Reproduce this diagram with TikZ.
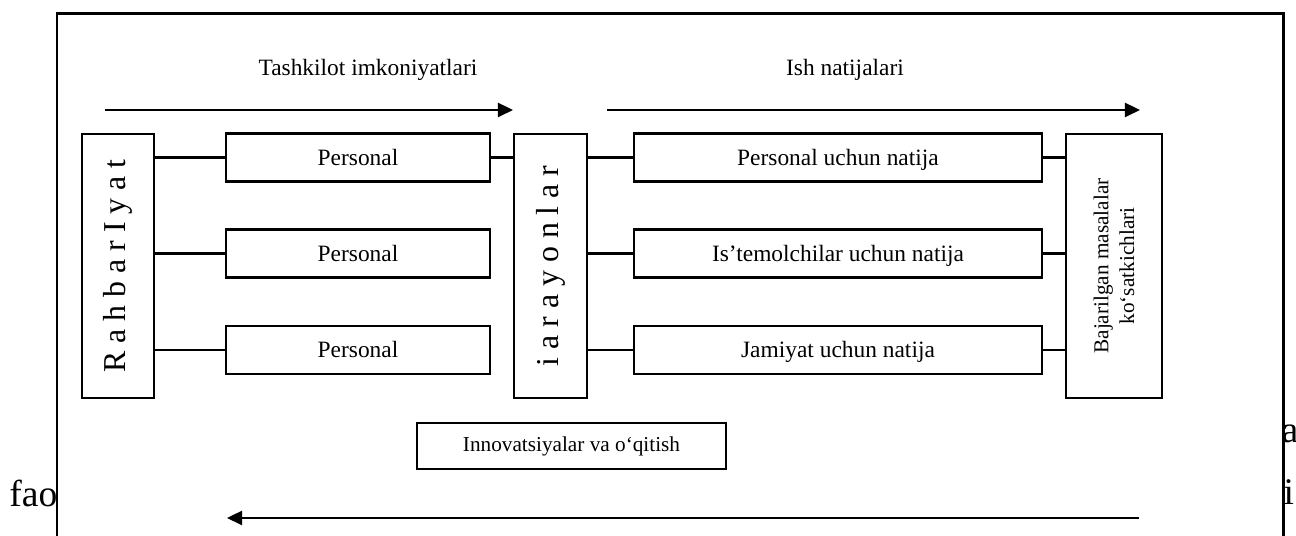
\documentclass[tikz,border=0pt]{standalone}
\usepackage{fontspec}
\setmainfont{Liberation Serif}
\usetikzlibrary{arrows.meta}
\begin{document}
\def\s{0.3673pt}
\begin{tikzpicture}[x=0.3673pt, y=-0.3673pt,
  box/.style 2 args={draw, line width=0.75pt, fill=white, inner sep=0pt, align=center,
    minimum width={#1*\s}, minimum height={#2*\s}},
  lbl/.style={font=\fontsize{8.6}{10}\selectfont},
  boxlbl/.style={lbl, text height=7.4pt, text depth=1.6pt},
  vert/.style={font=\fontsize{11.7}{14}\selectfont, rotate=90},
  small/.style={font=\fontsize{7.8}{9.4}\selectfont},
  body/.style={font=\fontsize{13.8}{16}\selectfont, inner sep=0pt},
  link/.style={line width=0.75pt},
  flow/.style={line width=0.95pt, -{Triangle[length=5.6pt, width=5.2pt]}}]
\useasboundingbox (0,0) rectangle (1296,536);
\clip (0,0) rectangle (1296,536);

% surrounding paragraph text, partly hidden by the frame
\node[body, anchor=base east] (t1) at (58,507) {fao};
\node[body, anchor=base west] (t2) at (1281,443) {a};
\node[body, anchor=base west] (t3) at (1283,505) {i};

% frame of the figure
\draw[line width=1.1pt, fill=white] (57,14) rectangle (1283,560);

% headings
\node[lbl] (h1) at (368,70) {Tashkilot imkoniyatlari};
\node[lbl] (h2) at (845,70) {Ish natijalari};

% flow arrows
\coordinate (a1s) at (105,110);
\coordinate (a1e) at (513,110);
\coordinate (a2s) at (607,110);
\coordinate (a2e) at (1140,110);
\coordinate (a3s) at (1139,518);
\coordinate (a3e) at (227,518);
\draw[flow] (a1s) -- (a1e);
\draw[flow] (a2s) -- (a2e);
\draw[flow] (a3s) -- (a3e);

% left column
\node[box={264}{72}, vert] (rahbar) at (118,266) {R a h b a r I y a t};
\node[box={264}{48}, boxlbl] (p1) at (358,157.5) {Personal};
\node[box={264}{48}, boxlbl] (p2) at (358,253.5) {Personal};
\node[box={264}{48}, boxlbl] (p3) at (358,350) {Personal};

% processes
\node[box={264}{73}, vert] (jar) at (550.5,266) {i a r a y o n l a r};

% results
\node[box={408}{48}, boxlbl] (r1) at (838,157.5) {Personal uchun natija};
\node[box={408}{48}, boxlbl] (r2) at (838,253.5) {Is’temolchilar uchun natija};
\node[box={408}{48}, boxlbl] (r3) at (838,350) {Jamiyat uchun natija};
\node[box={264}{96}, small, rotate=90] (baj) at (1114,266)
  {Bajarilgan masalalar\\ko‘satkichlari};

% innovations
\node[box={309}{46}, small] (inn) at (571.5,446) {Innovatsiyalar va o‘qitish};

% links
\foreach \p in {p1,p2,p3}
  \draw[link] (rahbar.south |- \p) -- (\p.west);
\draw[link] (p1.east) -- (jar.north |- p1);
\foreach \r in {r1,r2,r3} {
  \draw[link] (jar.south |- \r) -- (\r.west);
  \draw[link] (\r.east) -- (baj.north |- \r);
}
\end{tikzpicture}
\end{document}
